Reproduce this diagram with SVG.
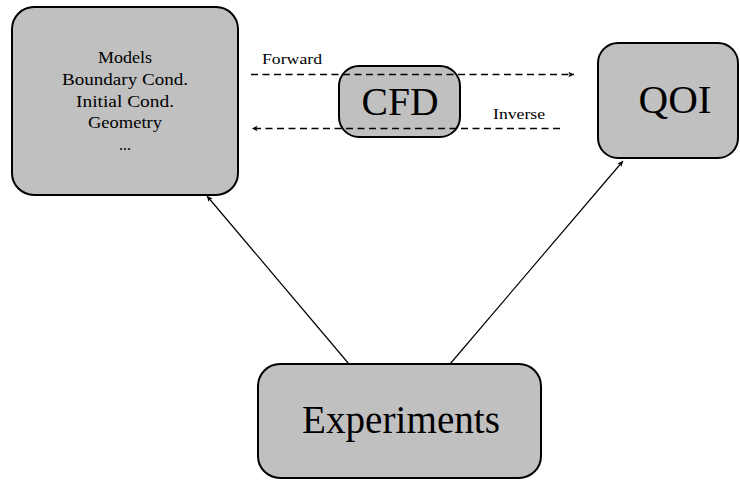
<svg xmlns="http://www.w3.org/2000/svg" width="740" height="480" viewBox="0 0 740 480">
<style>
.box{fill:#c0c0c0;stroke:#000;stroke-width:2}
.t{font-family:"Liberation Serif","DejaVu Serif",serif;fill:#000;text-anchor:middle}
.conn{stroke:#000;stroke-width:1.2;fill:none}
.dash{stroke-dasharray:7,4.5;stroke-width:1.3}
</style>
<defs>
<marker id="ah" viewBox="0 0 10 10" refX="9" refY="5" markerWidth="7" markerHeight="7" orient="auto-start-reverse" markerUnits="userSpaceOnUse">
<path d="M1,1 L9,5 L1,9 L3,5 Z" fill="#000"/>
</marker>
</defs>
<rect width="740" height="480" fill="#fff"/>
<g id="inputs">
<rect class="box" x="12" y="7" width="226" height="188" rx="22"/>
<text class="t" font-size="16" x="125" y="63" textLength="54" lengthAdjust="spacingAndGlyphs">Models</text>
<text class="t" font-size="16" x="125" y="85" textLength="126" lengthAdjust="spacingAndGlyphs">Boundary Cond.</text>
<text class="t" font-size="16" x="125" y="107" textLength="98" lengthAdjust="spacingAndGlyphs">Initial Cond.</text>
<text class="t" font-size="16" x="125" y="128" textLength="74" lengthAdjust="spacingAndGlyphs">Geometry</text>
<text class="t" font-size="16" x="125" y="150">...</text>
</g>
<g id="qoi">
<rect class="box" x="598" y="43" width="140" height="115" rx="20"/>
<text class="t" font-size="40" x="675" y="113" textLength="73" lengthAdjust="spacingAndGlyphs">QOI</text>
</g>
<g id="experiments">
<rect class="box" x="258" y="364" width="283" height="114" rx="22"/>
<text class="t" font-size="41" x="401" y="433" textLength="198" lengthAdjust="spacingAndGlyphs">Experiments</text>
</g>
<g id="cfd">
<rect class="box" x="339" y="66" width="121" height="71" rx="20"/>
<text class="t" font-size="40" x="400" y="115" textLength="77" lengthAdjust="spacingAndGlyphs">CFD</text>
</g>
<g id="connectors">
<line class="conn dash" x1="251" y1="74.5" x2="574" y2="74.5" marker-end="url(#ah)"/>
<line class="conn dash" x1="560" y1="128.5" x2="252" y2="128.5" marker-end="url(#ah)"/>
<line class="conn" x1="349" y1="364" x2="207" y2="196" marker-end="url(#ah)"/>
<line class="conn" x1="450" y1="364" x2="623" y2="161" marker-end="url(#ah)"/>
<text class="t" font-size="15" x="292" y="64" textLength="60" lengthAdjust="spacingAndGlyphs">Forward</text>
<text class="t" font-size="15" x="519" y="119" textLength="52" lengthAdjust="spacingAndGlyphs">Inverse</text>
</g>
</svg>
